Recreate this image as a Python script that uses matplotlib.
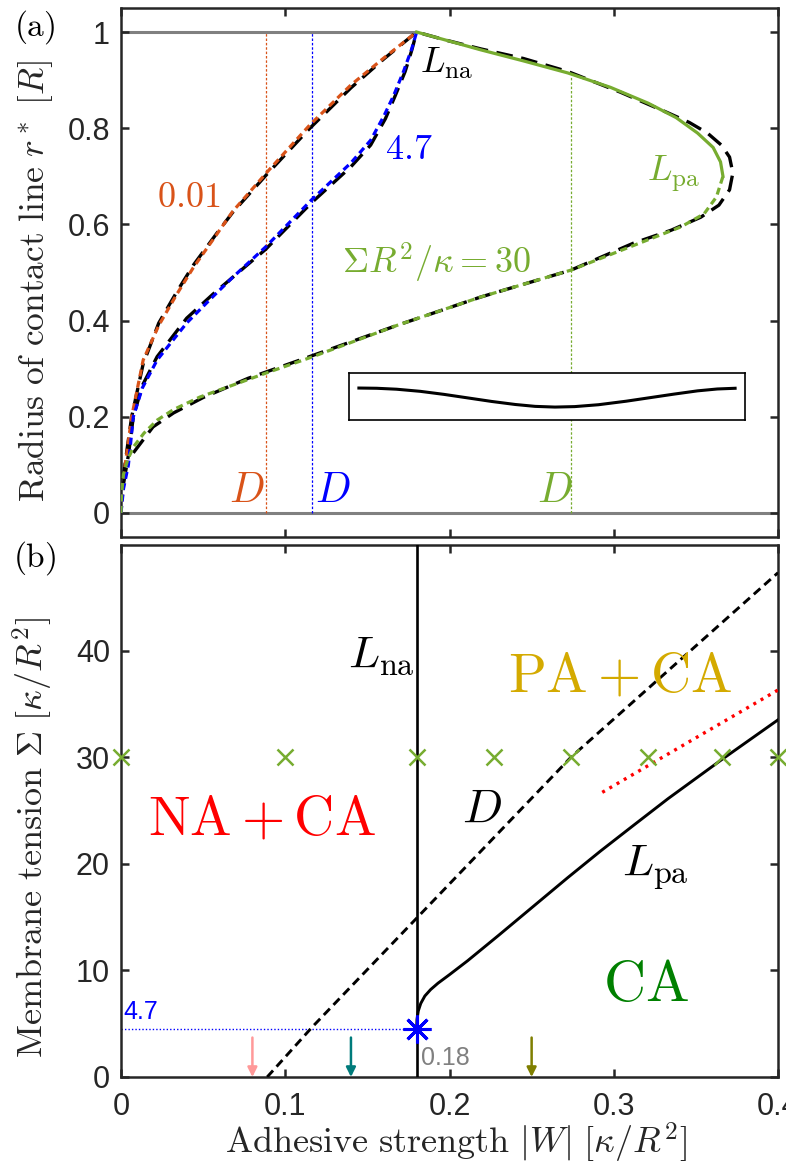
import matplotlib
matplotlib.use("Agg")
import matplotlib.pyplot as plt

plt.rcParams['font.family'] = ['Liberation Sans', 'DejaVu Sans']
plt.rcParams['mathtext.fontset'] = 'cm'

# ---- colours
c_orange = '#D95319'
c_blue = '#0000FF'
c_green = '#77AC30'
c_axes = '#262626'

# ---- panel (a): contact-line radius vs adhesive strength
# sigma = 0.01 (numerical, coloured)
w_s001 = [0, 0.0024, 0.0065, 0.0135, 0.023, 0.034, 0.044, 0.058, 0.068, 0.089,
          0.115, 0.140, 0.160, 0.18]
r_s001 = [0, 0.096, 0.2, 0.318, 0.39, 0.455, 0.51, 0.578, 0.627, 0.709,
          0.807, 0.89, 0.946, 1.0]
# sigma = 4.7
w_s47 = [0, 0.0015, 0.0045, 0.0075, 0.013, 0.022, 0.040, 0.056, 0.068, 0.088,
         0.116, 0.140, 0.152, 0.160, 0.166, 0.172, 0.177, 0.18]
r_s47 = [0, 0.05, 0.1, 0.2, 0.26, 0.318, 0.395, 0.45, 0.49, 0.553,
         0.651, 0.728, 0.775, 0.825, 0.868, 0.918, 0.965, 1.0]
# sigma = 30, stable (dashed) and upper (solid) branch
w_s30_lo = [0, 0.0004, 0.0015, 0.004, 0.0075, 0.014, 0.022, 0.032, 0.048, 0.0884,
            0.116, 0.168, 0.219, 0.274, 0.300, 0.341, 0.355, 0.3625, 0.3665]
r_s30_lo = [0, 0.04, 0.08, 0.11, 0.137, 0.166, 0.193, 0.215, 0.241, 0.291,
            0.324, 0.39, 0.449, 0.505, 0.54, 0.595, 0.622, 0.657, 0.70]
w_s30_up = [0.3665, 0.365, 0.3605, 0.351, 0.338, 0.321, 0.298, 0.272, 0.245,
            0.219, 0.198, 0.18]
r_s30_up = [0.70, 0.73, 0.76, 0.79, 0.822, 0.852, 0.885, 0.915, 0.94,
            0.963, 0.983, 1.0]

# approximations (black long dashes)
w_ap001 = [0.0012, 0.004, 0.0065, 0.0135, 0.023, 0.034, 0.044, 0.058, 0.068, 0.089,
           0.115, 0.140, 0.160, 0.18]
r_ap001 = [0.07, 0.14, 0.2, 0.31, 0.395, 0.46, 0.515, 0.58, 0.625, 0.705,
           0.8, 0.884, 0.944, 1.0]
w_ap47 = [0.0015, 0.0045, 0.0075, 0.013, 0.022, 0.040, 0.056, 0.068, 0.088, 0.116,
          0.140, 0.152, 0.161, 0.167, 0.173, 0.177, 0.18]
r_ap47 = [0.06, 0.12, 0.2, 0.265, 0.325, 0.405, 0.455, 0.49, 0.548, 0.645,
          0.72, 0.765, 0.82, 0.868, 0.918, 0.962, 1.0]
w_ap30 = [0.0075, 0.0195, 0.032, 0.05, 0.0774, 0.109, 0.168, 0.219, 0.274, 0.312,
          0.335, 0.353, 0.364, 0.3705, 0.3725, 0.3705, 0.3655, 0.357, 0.346, 0.333,
          0.304, 0.272, 0.245, 0.219, 0.198, 0.18]
r_ap30 = [0.125, 0.179, 0.208, 0.24, 0.28, 0.318, 0.39, 0.449, 0.505, 0.561,
          0.588, 0.615, 0.64, 0.672, 0.707, 0.74, 0.765, 0.79, 0.812, 0.832,
          0.875, 0.918, 0.945, 0.965, 0.983, 1.0]

# detachment positions D for the three tensions
d_w = [0.0884, 0.116, 0.274]
d_top = [1.0, 1.0, 0.907]
d_colors = [c_orange, c_blue, c_green]

# inset: membrane profile (normalised inset coordinates)
prof_x = [0.025, 0.07, 0.12, 0.18, 0.24, 0.3, 0.36, 0.42, 0.47, 0.52, 0.57,
          0.63, 0.7, 0.76, 0.82, 0.88, 0.93, 0.975]
prof_y = [0.68, 0.675, 0.655, 0.61, 0.545, 0.47, 0.395, 0.33, 0.29, 0.275, 0.285,
          0.325, 0.4, 0.475, 0.55, 0.62, 0.66, 0.675]

# ---- panel (b): phase diagram
w_na = 0.18
w_d = [0.089, 0.1165, 0.18, 0.274, 0.4]
s_d = [0, 4.7, 14.9, 30.0, 47.3]
w_lpa = [0.18, 0.1802, 0.181, 0.1825, 0.185, 0.1885, 0.193, 0.2, 0.211, 0.23,
         0.251, 0.272, 0.292, 0.312, 0.333, 0.366, 0.4]
s_lpa = [4.6, 5.4, 6.2, 6.9, 7.6, 8.2, 8.8, 9.6, 10.9, 13.3,
         16.0, 18.7, 21.2, 23.6, 26.1, 29.8, 33.5]
w_red = [0.293, 0.4]
s_red = [26.7, 36.3]
w_cross = [0, 0.1, 0.18, 0.227, 0.274, 0.321, 0.366, 0.4]
s_cross = 30
w_star, s_star = 0.18, 4.5
w_arrows = [0.08, 0.14, 0.25]
arrow_colors = ['#FF9999', '#007B7B', '#7F7F00']

W, H = 786, 1165
fig = plt.figure(figsize=(W / 100, H / 100), dpi=100)
ax1 = fig.add_axes([121 / W, 1 - 537 / H, 657 / W, 529 / H])
ax2 = fig.add_axes([121 / W, 1 - 1077 / H, 657 / W, 532 / H])

for ax in (ax1, ax2):
    for s in ax.spines.values():
        s.set_linewidth(1.8)
        s.set_color(c_axes)
    ax.tick_params(direction='in', length=6, width=1.8, color=c_axes,
                   labelsize=22, labelcolor=c_axes, top=True, right=True)
    ax.tick_params(axis='y', pad=8)
    ax.tick_params(axis='x', pad=11)

# ---------------- panel (a)
ax1.set_xlim(0, 0.4)
ax1.set_ylim(-0.05, 1.05)
ax1.set_xticks([0, 0.1, 0.2, 0.3, 0.4])
ax1.set_xticklabels([])
ax1.set_yticks([0, 0.2, 0.4, 0.6, 0.8, 1.0])
ax1.set_yticklabels(['0', '0.2', '0.4', '0.6', '0.8', '1'])

ax1.plot([0, 0.4], [0, 0], color='#808080', lw=2.2, zorder=1)
ax1.plot([0, 0.18], [1, 1], color='#808080', lw=2.2, zorder=1)
for x, top, c in zip(d_w, d_top, d_colors):
    ax1.plot([x, x], [0, top], color=c, lw=0.9, ls=(0, (2, 1.5)), zorder=2)

blk = dict(color='black', lw=2.4, ls=(0, (5, 2.6)), zorder=3)
ax1.plot(w_ap001, r_ap001, **blk)
ax1.plot(w_ap47, r_ap47, **blk)
ax1.plot(w_ap30, r_ap30, **blk)

col = dict(lw=2.3, ls=(0, (2.2, 1.4)), zorder=4)
ax1.plot(w_s001, r_s001, color=c_orange, **col)
ax1.plot(w_s47, r_s47, color=c_blue, **col)
ax1.plot(w_s30_lo, r_s30_lo, color=c_green, **col)
ax1.plot(w_s30_up, r_s30_up, color=c_green, lw=2.3, zorder=4)

fs_a = 26
ax1.text(0.182, 0.935, r'$L_{\mathrm{na}}$', fontsize=fs_a, color='black', ha='left', va='center')
ax1.text(0.1605, 0.755, r'$4.7$', fontsize=fs_a, color=c_blue, ha='left', va='center')
ax1.text(0.022, 0.655, r'$0.01$', fontsize=fs_a, color=c_orange, ha='left', va='center')
ax1.text(0.32, 0.705, r'$L_{\mathrm{pa}}$', fontsize=fs_a, color=c_green, ha='left', va='center')
ax1.text(0.1345, 0.52, r'$\Sigma R^2/\kappa = 30$', fontsize=fs_a, color=c_green, ha='left', va='center')
fs_d = 30
ax1.text(0.0655, 0.045, r'$D$', fontsize=fs_d, color=c_orange, ha='left', va='center')
ax1.text(0.118, 0.045, r'$D$', fontsize=fs_d, color=c_blue, ha='left', va='center')
ax1.text(0.253, 0.045, r'$D$', fontsize=fs_d, color=c_green, ha='left', va='center')

ax1.set_ylabel(r'$\mathrm{Radius\ of\ contact\ line}\ r^*\ [R]$', fontsize=25.5, color=c_axes)
ax1.yaxis.set_label_coords(-0.1, 0.485)

ins = fig.add_axes([349 / W, 1 - 420 / H, 396 / W, 47 / H])
ins.set_xlim(0, 1)
ins.set_ylim(0, 1)
ins.set_xticks([])
ins.set_yticks([])
for s in ins.spines.values():
    s.set_linewidth(1.2)
ins.plot(prof_x, prof_y, color='black', lw=2.2)

fig.text(35 / W, 1 - 27 / H, r'$\mathrm{(a)}$', fontsize=24, ha='center', va='center')
fig.text(35 / W, 1 - 558 / H, r'$\mathrm{(b)}$', fontsize=24, ha='center', va='center')

# ---------------- panel (b)
ax2.set_xlim(0, 0.4)
ax2.set_ylim(0, 49.9)
ax2.set_xticks([0, 0.1, 0.2, 0.3, 0.4])
ax2.set_xticklabels(['0', '0.1', '0.2', '0.3', '0.4'])
ax2.set_yticks([0, 10, 20, 30, 40])

ax2.plot([w_na, w_na], [0, 50], color='black', lw=1.9, zorder=3)
ax2.plot(w_d, s_d, color='black', lw=2.1, ls=(0, (3, 1.8)), zorder=3)
ax2.plot(w_lpa, s_lpa, color='black', lw=2.1, zorder=3)
ax2.plot(w_red, s_red, color='#FF0000', lw=2.4, ls=(0, (0.9, 1.6)), zorder=3)
ax2.plot([0, w_star], [s_star, s_star], color=c_blue, lw=1.0, ls=(0, (1, 1.5)), zorder=2)
ax2.plot(w_cross, [s_cross] * len(w_cross), ls='none', marker='x', ms=12, mew=1.8,
         color=c_green, clip_on=False, zorder=4)
ax2.plot([w_star], [s_star], ls='none', marker=(8, 2, 0), ms=20, mew=2.2,
         color=c_blue, clip_on=False, zorder=5)
for x, c in zip(w_arrows, arrow_colors):
    ax2.annotate('', xy=(x, 0), xytext=(x, 3.7),
                 arrowprops=dict(arrowstyle='-|>', color=c, lw=1.8,
                                 mutation_scale=14, shrinkA=0, shrinkB=0))

ax2.text(0.0015, 5.0, '4.7', fontsize=18, color=c_blue, ha='left', va='bottom')
ax2.text(0.1825, 0.7, '0.18', fontsize=18, color='#808080', ha='left', va='bottom')

ax2.text(0.138, 39.5, r'$L_{\mathrm{na}}$', fontsize=33, color='black', ha='left', va='center')
ax2.text(0.304, 37.5, r'$\mathrm{PA+CA}$', fontsize=40, color='#D4AA00', ha='center', va='center')
ax2.text(0.086, 24.1, r'$\mathrm{NA+CA}$', fontsize=40, color='#FF0000', ha='center', va='center')
ax2.text(0.2195, 25.1, r'$D$', fontsize=34, color='black', ha='center', va='center')
ax2.text(0.3256, 19.6, r'$L_{\mathrm{pa}}$', fontsize=33, color='black', ha='center', va='center')
ax2.text(0.3195, 8.5, r'$\mathrm{CA}$', fontsize=42, color='#008000', ha='center', va='center')

ax2.set_ylabel(r'$\mathrm{Membrane\ tension}\ \Sigma\ [\kappa/R^2]$', fontsize=26, color=c_axes)
ax2.yaxis.set_label_coords(-0.1, 0.45)
ax2.set_xlabel(r'$\mathrm{Adhesive\ strength}\ |W|\ [\kappa/R^2]$', fontsize=26, color=c_axes)
ax2.xaxis.set_label_coords(0.51, -0.082)

fig.savefig('out.png', dpi=100)
